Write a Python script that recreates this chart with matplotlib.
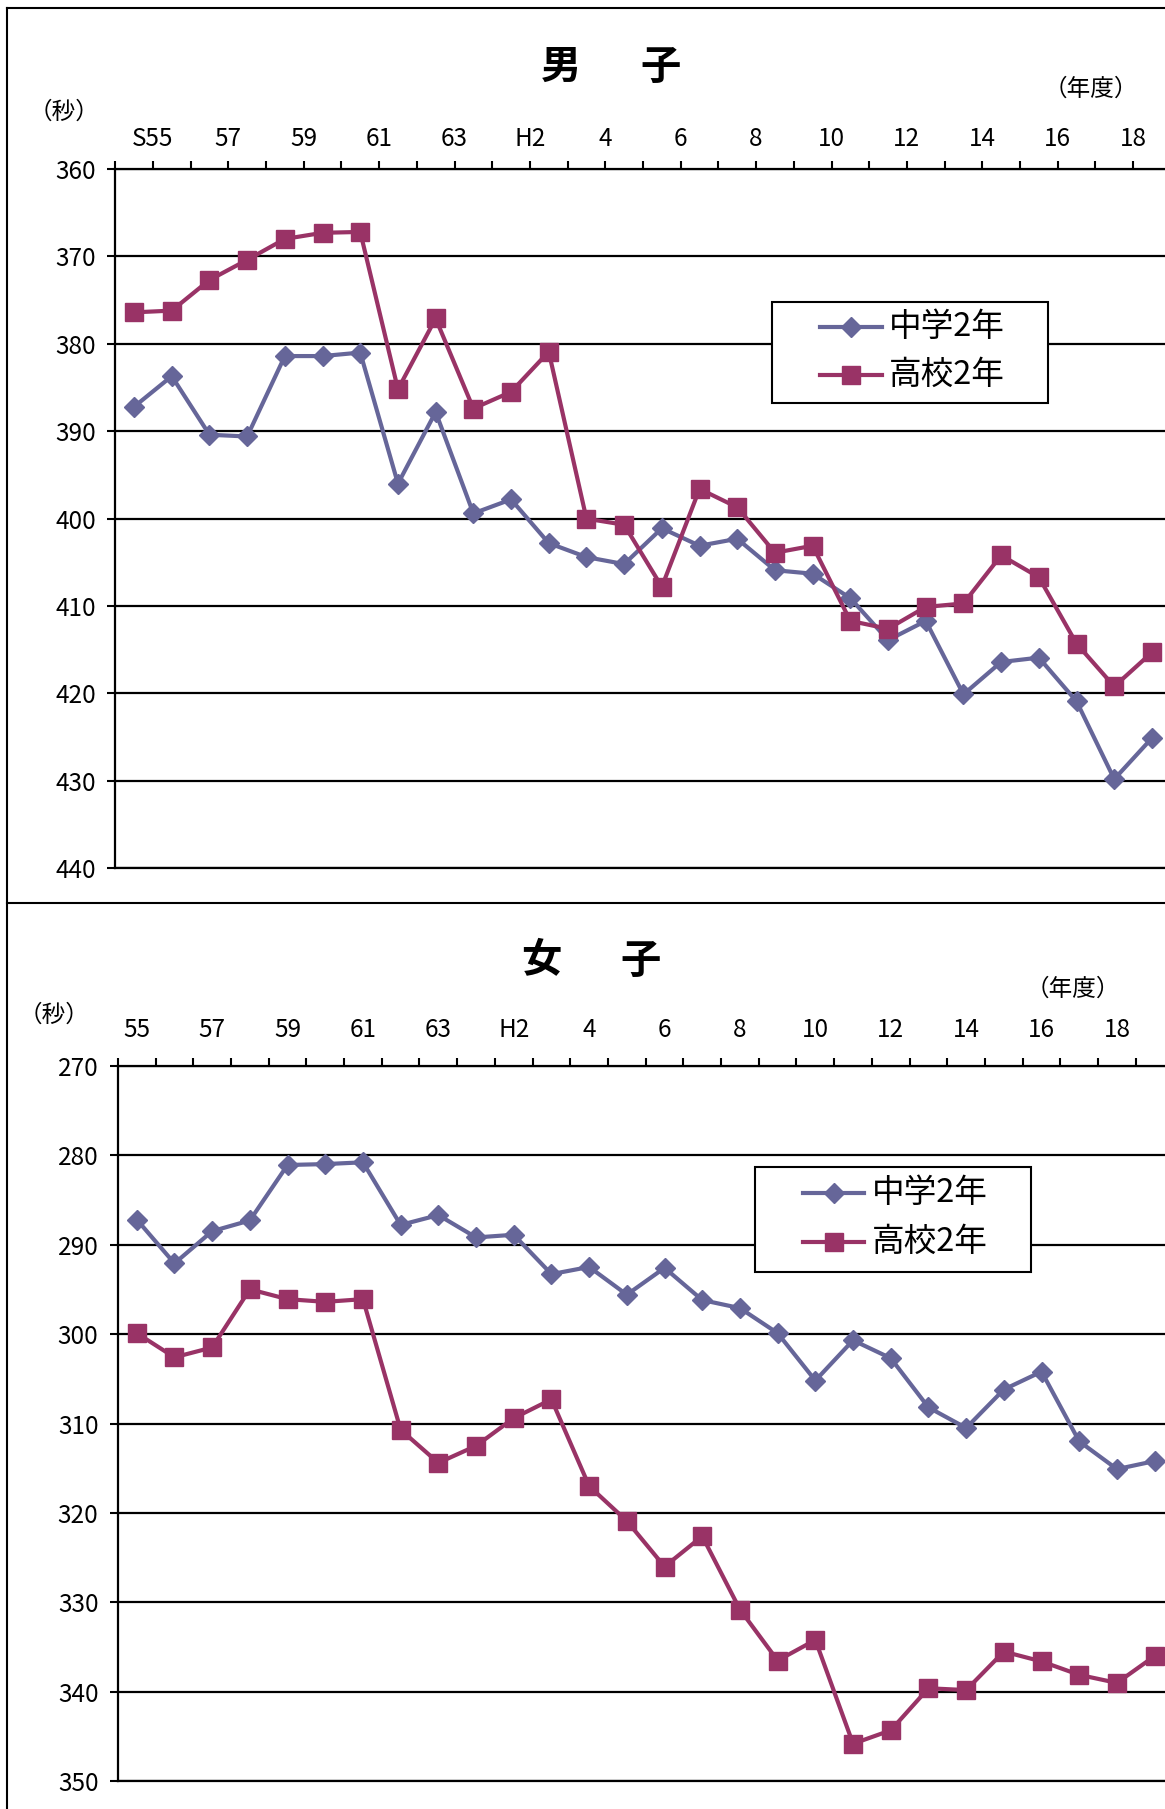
import numpy as np
import matplotlib
matplotlib.use('Agg')
import matplotlib.pyplot as plt
from matplotlib.lines import Line2D
from matplotlib.patches import Rectangle

plt.rcParams['font.family'] = ['Noto Sans CJK JP', 'DejaVu Sans']

# school years S55 .. S63, H1 .. H19
years = ['S55', '56', '57', '58', '59', '60', '61', '62', '63',
         'H1', 'H2', '3', '4', '5', '6', '7', '8', '9', '10',
         '11', '12', '13', '14', '15', '16', '17', '18', '19']
top_labels = ['S55', '57', '59', '61', '63', 'H2', '4', '6', '8',
              '10', '12', '14', '16', '18']
bottom_labels = ['55', '57', '59', '61', '63', 'H2', '4', '6', '8',
                 '10', '12', '14', '16', '18']
series_names = ['中学2年', '高校2年']

# seconds
boys_jhs = [387.2, 383.7, 390.4, 390.6, 381.4, 381.4, 381.0, 396.0, 387.8,
            399.4, 397.8, 402.8, 404.4, 405.2, 401.1, 403.1, 402.3, 405.9,
            406.3, 409.1, 413.9, 411.7, 420.1, 416.4, 415.9, 420.9, 429.8, 425.1]
boys_hs = [376.4, 376.2, 372.7, 370.4, 368.0, 367.3, 367.2, 385.2, 377.1,
           387.4, 385.5, 380.9, 400.0, 400.7, 407.8, 396.6, 398.7, 403.9,
           403.1, 411.7, 412.6, 410.1, 409.7, 404.2, 406.7, 414.3, 419.2, 415.3]
girls_jhs = [287.2, 292.1, 288.5, 287.3, 281.1, 281.0, 280.8, 287.8, 286.7,
             289.2, 288.9, 293.3, 292.5, 295.6, 292.6, 296.2, 297.1, 299.9,
             305.2, 300.7, 302.7, 308.2, 310.5, 306.2, 304.2, 312.0, 315.1, 314.2]
girls_hs = [299.9, 302.6, 301.5, 295.0, 296.1, 296.4, 296.1, 310.7, 314.4,
            312.5, 309.4, 307.3, 317.0, 320.9, 326.0, 322.6, 330.8, 336.5,
            334.2, 345.8, 344.3, 339.6, 339.8, 335.5, 336.6, 338.1, 339.0, 336.0]

BLUE = '#666699'
PINK = '#993366'
W, H = 1165, 1809
LW = 3.0

fig = plt.figure(figsize=(W / 100, H / 100), dpi=100)


def fx(x):
    return x / W


def fy(y):
    return 1 - y / H


def panel(rect, jhs, hs, ymin, ymax, label_pos, labels, xpad):
    ax = fig.add_axes(rect)
    x = np.arange(len(years))
    ax.plot(x, jhs, color=BLUE, lw=LW, marker='D', ms=10, mec=BLUE, zorder=4, clip_on=False)
    ax.plot(x, hs, color=PINK, lw=LW, marker='s', ms=13.5, mec=PINK, zorder=4, clip_on=False)
    ax.set_xlim(-0.5, len(years) - 0.5)
    ax.set_ylim(ymax, ymin)
    ax.set_yticks(np.arange(ymin, ymax + 1, 10))
    ax.yaxis.grid(True, color='black', lw=1.6)
    ax.set_axisbelow(True)
    ax.xaxis.remove_overlapping_locs = False
    ax.set_xticks(np.arange(-0.5, len(years), 1))
    ax.set_xticklabels([])
    ax.set_xticks(label_pos, minor=True)
    ax.set_xticklabels(labels, minor=True)
    ax.tick_params(axis='x', which='both', top=True, bottom=False,
                   labeltop=True, labelbottom=False)
    ax.tick_params(axis='x', which='major', length=5.5, width=1.5, direction='out')
    ax.tick_params(axis='x', which='minor', length=0, pad=xpad, labelsize=17.5)
    ax.tick_params(axis='y', length=5.5, width=1.5, pad=8.5, labelsize=17.5)
    for s in ax.spines.values():
        s.set_linewidth(1.6)
    ax.spines['right'].set_visible(False)
    return ax


def legend_box(ax, box, hx, tx, rows):
    x0, y0, x1, y1 = box
    ax.add_patch(Rectangle((x0, y0), x1 - x0, y1 - y0, transform=ax.transAxes,
                           facecolor='white', edgecolor='black', lw=1.5, zorder=6))
    styles = [(BLUE, 'D', 10), (PINK, 's', 13.5)]
    for name, (c, m, ms), ry in zip(series_names, styles, rows):
        ax.add_line(Line2D(hx, [ry, ry], transform=ax.transAxes, color=c, lw=LW, zorder=7))
        ax.add_line(Line2D([(hx[0] + hx[1]) / 2], [ry], transform=ax.transAxes, color=c,
                           marker=m, ms=ms, mec=c, lw=0, zorder=8))
        ax.text(tx, ry, name, transform=ax.transAxes, ha='left', va='center',
                fontsize=23.5, zorder=8)


# boys
ax1 = panel([fx(115.2), fy(868.3), 1055.6 / W, 699.3 / H],
            boys_jhs, boys_hs, 360, 440,
            np.arange(0.5, len(years), 2), top_labels, 12)
legend_box(ax1, (0.6226, 0.665, 0.8837, 0.8102), [0.6677, 0.726], 0.733, [0.774, 0.7055])

# girls
ax2 = panel([fx(117.9), fy(1781.3), 1055.6 / W, 715.6 / H],
            girls_jhs, girls_hs, 270, 350,
            np.arange(0, len(years), 2), bottom_labels, 16)
legend_box(ax2, (0.6035, 0.7121, 0.8647, 0.8589), [0.649, 0.707], 0.7144, [0.8225, 0.754])

# titles and units
fig.text(fx(561.5), fy(67), '男', fontsize=29, fontweight='bold', ha='center', va='center')
fig.text(fx(661), fy(67), '子', fontsize=29, fontweight='bold', ha='center', va='center')
fig.text(fx(541.5), fy(961), '女', fontsize=29, fontweight='bold', ha='center', va='center')
fig.text(fx(640.5), fy(961), '子', fontsize=29, fontweight='bold', ha='center', va='center')
fig.text(fx(64), fy(112), '（秒）', fontsize=17, ha='center', va='center')
fig.text(fx(54.5), fy(1015), '（秒）', fontsize=17, ha='center', va='center')
fig.text(fx(1091), fy(89), '（年度）', fontsize=17, ha='center', va='center')
fig.text(fx(1073), fy(989), '（年度）', fontsize=17, ha='center', va='center')

# outer frames
for xs, ys in [([7, W], [8, 8]), ([7, 7], [8, H]), ([7, W], [903, 903])]:
    fig.add_artist(Line2D([fx(v) for v in xs], [fy(v) for v in ys],
                          transform=fig.transFigure, color='black', lw=1.5))

fig.savefig('out.png', dpi=100)
